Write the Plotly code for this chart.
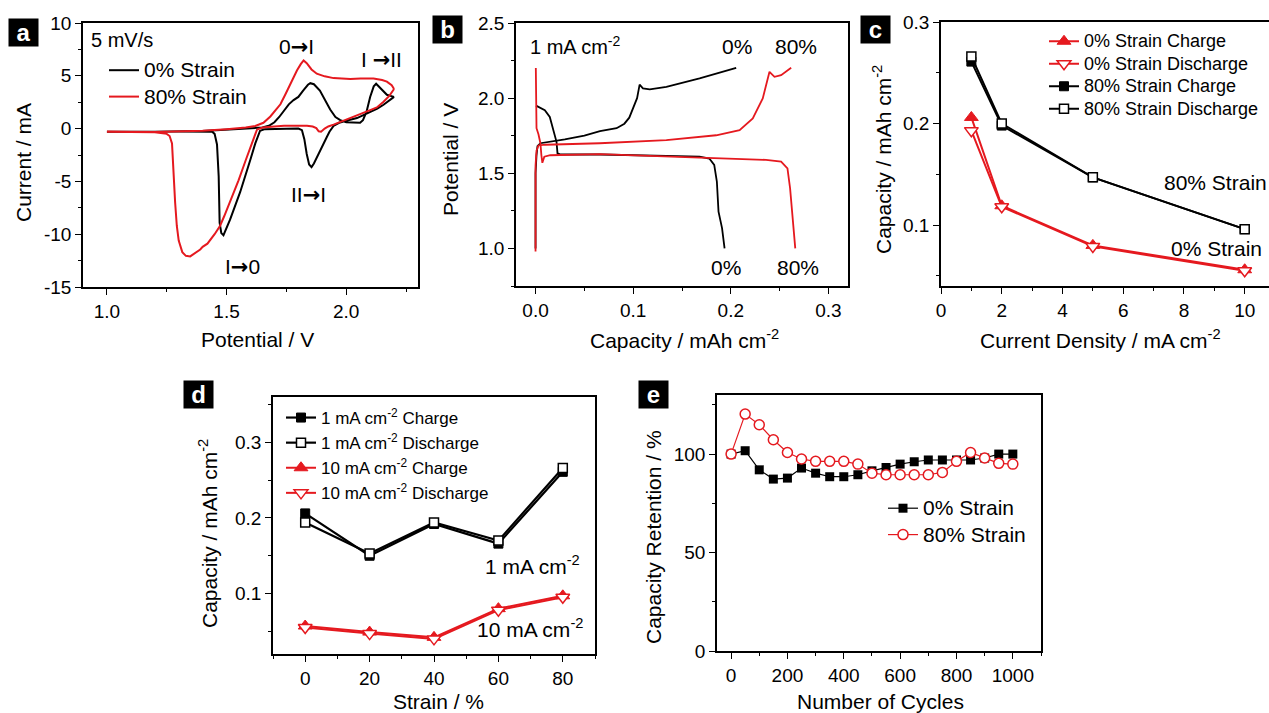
import plotly.graph_objects as go

FONT = "Liberation Sans, Arial, sans-serif"
RED = "#e5191f"
BLACK = "#000000"
W, H = 1269, 713

# ---------------- Panel a : cyclic voltammetry ----------------
cv0_potential = [2.20, 2.18, 2.156, 2.13, 2.10, 2.07, 2.045, 2.0, 1.97, 1.947, 1.93, 1.919, 1.90, 1.877,
                 1.865, 1.855, 1.845, 1.835, 1.825, 1.815, 1.80, 1.75, 1.70, 1.66, 1.64, 1.62, 1.60, 1.557,
                 1.515, 1.495, 1.487, 1.478, 1.471, 1.467, 1.46, 1.45, 1.44, 1.3, 1.15, 1.0,
                 1.2, 1.4, 1.5, 1.6, 1.65, 1.68, 1.70, 1.72, 1.74, 1.76, 1.78, 1.80, 1.82, 1.84, 1.85,
                 1.865, 1.89, 1.91, 1.933, 1.955, 1.975, 2.0, 2.03, 2.058, 2.07, 2.085, 2.10, 2.115, 2.125,
                 2.14, 2.155, 2.17, 2.185, 2.20]
cv0_current = [3.00, 2.65, 2.26, 1.9, 1.6, 1.25, 1.0, 0.75, 0.55, 0.25, -0.3, -0.8, -1.7, -2.7,
               -3.3, -3.65, -3.4, -2.4, -1.0, -0.15, 0.0, -0.02, -0.03, -0.05, -0.2, -1.4, -2.9, -6.0,
               -8.6, -9.7, -10.1, -9.9, -8.9, -4.5, -1.5, -0.5, -0.3, -0.28, -0.28, -0.3,
               -0.3, -0.22, -0.1, 0.0, 0.1, 0.3, 0.6, 1.1, 1.7, 2.3, 2.7, 3.0, 3.6, 4.15, 4.3,
               4.2, 3.6, 2.7, 1.8, 1.1, 0.8, 0.6, 0.55, 0.55, 0.8, 1.6, 3.0, 4.0, 4.25,
               3.9, 3.5, 3.2, 3.1, 3.0]
cv80_potential = [2.20, 2.18, 2.156, 2.128, 2.10, 2.072, 2.04, 2.003, 1.97, 1.947, 1.925, 1.91, 1.895,
                  1.885, 1.875, 1.86, 1.836, 1.80, 1.74, 1.70, 1.65, 1.627, 1.61, 1.58, 1.55, 1.52, 1.49,
                  1.473, 1.45, 1.42, 1.40, 1.39, 1.37, 1.348, 1.33, 1.315, 1.30, 1.292, 1.285, 1.278,
                  1.272, 1.262, 1.25, 1.20, 1.10, 1.0,
                  1.2, 1.4, 1.5, 1.58, 1.62, 1.654, 1.683, 1.705, 1.725, 1.745, 1.767, 1.794, 1.81, 1.822,
                  1.835, 1.855, 1.877, 1.91, 1.947, 2.017, 2.06, 2.114, 2.15, 2.17, 2.19, 2.20]
cv80_current = [3.75, 3.1, 2.55, 2.0, 1.75, 1.5, 1.15, 0.85, 0.55, 0.38, 0.2, 0.0, -0.3,
                -0.25, 0.05, 0.2, 0.28, 0.3, 0.28, 0.2, 0.1, -0.1, -1.1, -3.0, -4.9, -6.7, -8.3,
                -9.2, -10.0, -10.9, -11.2, -11.45, -11.8, -12.1, -12.05, -11.7, -10.6, -9.2, -7.0, -4.5,
                -1.4, -0.7, -0.5, -0.35, -0.3, -0.3,
                -0.32, -0.2, -0.05, 0.1, 0.25, 0.55, 1.15, 1.7, 2.3, 3.2, 4.3, 5.5, 6.1, 6.45,
                6.2, 5.6, 5.2, 4.95, 4.78, 4.7, 4.75, 4.75, 4.6, 4.45, 4.1, 3.75]

# ---------------- Panel b : charge / discharge at 1 mA cm-2 ----------------
b0_charge_cap = [0.0, 0.0, 0.001, 0.002, 0.005, 0.015, 0.03, 0.05, 0.066, 0.083, 0.091, 0.096, 0.0998,
                 0.104, 0.1066, 0.11, 0.117, 0.134, 0.168, 0.2055]
b0_charge_v = [1.0, 1.5, 1.62, 1.68, 1.70, 1.71, 1.725, 1.75, 1.78, 1.80, 1.83, 1.87, 1.93,
               2.0, 2.09, 2.065, 2.058, 2.075, 2.131, 2.202]
b0_discharge_cap = [0.0005, 0.005, 0.0095, 0.0146, 0.018, 0.0215, 0.0225, 0.026, 0.066, 0.134, 0.168,
                    0.178, 0.183, 0.1857, 0.1874, 0.191, 0.1936]
b0_discharge_v = [1.95, 1.935, 1.92, 1.875, 1.798, 1.709, 1.632, 1.625, 1.625, 1.615, 1.611,
                  1.598, 1.556, 1.445, 1.245, 1.135, 1.0]
b80_charge_cap = [0.0, 0.0, 0.001, 0.003, 0.01, 0.0657, 0.134, 0.185, 0.209, 0.2225, 0.2327, 0.238,
                  0.2396, 0.2447, 0.2515, 0.2618]
b80_charge_v = [0.98, 1.55, 1.65, 1.685, 1.69, 1.70, 1.72, 1.753, 1.787, 1.865, 1.998, 2.131,
                2.175, 2.142, 2.153, 2.202]
b80_discharge_cap = [0.0003, 0.0003, 0.001, 0.003, 0.005, 0.006, 0.007, 0.009, 0.015, 0.0657, 0.134,
                     0.202, 0.236, 0.2515, 0.258, 0.2607, 0.2634, 0.266]
b80_discharge_v = [2.2, 1.88, 1.80, 1.76, 1.70, 1.62, 1.57, 1.61, 1.62, 1.627, 1.611,
                   1.60, 1.589, 1.578, 1.533, 1.4, 1.179, 1.0]

# ---------------- Panel c : rate capability ----------------
c_current_density = [1, 2, 5, 10]
c_0_charge = [0.206, 0.119, 0.080, 0.056]
c_0_discharge = [0.193, 0.118, 0.079, 0.055]
c_80_charge = [0.261, 0.198, 0.147, 0.096]
c_80_discharge = [0.266, 0.200, 0.147, 0.096]

# ---------------- Panel d : capacity vs strain ----------------
d_strain = [0, 20, 40, 60, 80]
d_1_charge = [0.206, 0.150, 0.192, 0.166, 0.261]
d_1_discharge = [0.194, 0.153, 0.194, 0.170, 0.266]
d_10_charge = [0.057, 0.049, 0.042, 0.080, 0.097]
d_10_discharge = [0.055, 0.047, 0.040, 0.078, 0.095]

# ---------------- Panel e : cycling ----------------
e_cycles = [0, 50, 100, 150, 200, 250, 300, 350, 400, 450, 500, 550, 600, 650, 700, 750, 800,
            850, 900, 950, 1000]
e_0_strain = [100, 101.7, 92.0, 87.3, 87.8, 92.9, 90.3, 88.5, 88.5, 89.5, 91.5, 93.2, 94.9, 96.1,
              97.0, 97.0, 97.0, 97.0, 98.0, 100.0, 100.0]
e_80_strain = [100, 120.3, 114.9, 107.3, 100.8, 97.5, 96.3, 96.3, 96.3, 94.9, 90.3, 89.5, 89.5, 89.5,
               89.5, 90.7, 96.3, 100.8, 98.0, 95.3, 94.9]


def px_x(p):
    return p / W


def px_y(p):
    return 1 - p / H


def big(s, size):
    return '<span style="font-size:%dpx">%s</span>' % (size, s)


ARROW = '<span style="font-family:DejaVu Sans;font-weight:bold">\u2192</span>'

fig = go.Figure()

# Panel a
fig.add_trace(go.Scatter(x=cv0_potential, y=cv0_current, mode="lines", name=big("0% Strain", 21),
                         line=dict(color=BLACK, width=2), xaxis="x", yaxis="y", legend="legend"))
fig.add_trace(go.Scatter(x=cv80_potential, y=cv80_current, mode="lines", name=big("80% Strain", 21),
                         line=dict(color=RED, width=2), xaxis="x", yaxis="y", legend="legend"))

# Panel b
for xs, ys, col in [(b0_charge_cap, b0_charge_v, BLACK), (b0_discharge_cap, b0_discharge_v, BLACK),
                    (b80_charge_cap, b80_charge_v, RED), (b80_discharge_cap, b80_discharge_v, RED)]:
    fig.add_trace(go.Scatter(x=xs, y=ys, mode="lines", line=dict(color=col, width=1.8),
                             xaxis="x2", yaxis="y2", showlegend=False))

# Panel c
fig.add_trace(go.Scatter(x=c_current_density, y=c_0_charge, mode="lines+markers",
                         name=big("0% Strain Charge", 18), line=dict(color=RED, width=2),
                         marker=dict(symbol="triangle-up", size=12, color=RED, line=dict(color=RED, width=1)),
                         xaxis="x3", yaxis="y3", legend="legend2", legendgroup="c1"))
fig.add_trace(go.Scatter(x=c_current_density, y=c_0_discharge, mode="lines+markers",
                         name=big("0% Strain Discharge", 18), line=dict(color=RED, width=2),
                         marker=dict(symbol="triangle-down", size=12, color="white", line=dict(color=RED, width=1.5)),
                         xaxis="x3", yaxis="y3", legend="legend2", legendgroup="c2"))
fig.add_trace(go.Scatter(x=c_current_density, y=c_80_charge, mode="lines+markers",
                         name=big("80% Strain Charge", 18), line=dict(color=BLACK, width=2),
                         marker=dict(symbol="square", size=9, color=BLACK, line=dict(color=BLACK, width=1)),
                         xaxis="x3", yaxis="y3", legend="legend2", legendgroup="c3"))
fig.add_trace(go.Scatter(x=c_current_density, y=c_80_discharge, mode="lines+markers",
                         name=big("80% Strain Discharge", 18), line=dict(color=BLACK, width=2),
                         marker=dict(symbol="square", size=9, color="white", line=dict(color=BLACK, width=1.5)),
                         xaxis="x3", yaxis="y3", legend="legend2", legendgroup="c4"))

# Panel d
fig.add_trace(go.Scatter(x=d_strain, y=d_1_charge, mode="lines+markers", name="1 mA cm<sup>-2</sup> Charge",
                         line=dict(color=BLACK, width=2.2),
                         marker=dict(symbol="square", size=9, color=BLACK, line=dict(color=BLACK, width=1)),
                         xaxis="x4", yaxis="y4", legend="legend3", legendgroup="d1"))
fig.add_trace(go.Scatter(x=d_strain, y=d_1_discharge, mode="lines+markers",
                         name="1 mA cm<sup>-2</sup> Discharge", line=dict(color=BLACK, width=2.2),
                         marker=dict(symbol="square", size=9, color="white", line=dict(color=BLACK, width=1.5)),
                         xaxis="x4", yaxis="y4", legend="legend3", legendgroup="d2"))
fig.add_trace(go.Scatter(x=d_strain, y=d_10_charge, mode="lines+markers",
                         name="10 mA cm<sup>-2</sup> Charge", line=dict(color=RED, width=2),
                         marker=dict(symbol="triangle-up", size=12, color=RED, line=dict(color=RED, width=1)),
                         xaxis="x4", yaxis="y4", legend="legend3", legendgroup="d3"))
fig.add_trace(go.Scatter(x=d_strain, y=d_10_discharge, mode="lines+markers",
                         name="10 mA cm<sup>-2</sup> Discharge", line=dict(color=RED, width=2),
                         marker=dict(symbol="triangle-down", size=12, color="white", line=dict(color=RED, width=1.5)),
                         xaxis="x4", yaxis="y4", legend="legend3", legendgroup="d4"))

# Panel e
fig.add_trace(go.Scatter(x=e_cycles, y=e_0_strain, mode="lines+markers", name=big("0% Strain", 21),
                         line=dict(color=BLACK, width=1.2),
                         marker=dict(symbol="square", size=9, color=BLACK),
                         xaxis="x5", yaxis="y5", legend="legend4", legendgroup="e1"))
fig.add_trace(go.Scatter(x=e_cycles, y=e_80_strain, mode="lines+markers", name=big("80% Strain", 21),
                         line=dict(color=RED, width=1.2),
                         marker=dict(symbol="circle", size=10, color="white", line=dict(color=RED, width=1.5)),
                         xaxis="x5", yaxis="y5", legend="legend4", legendgroup="e2"))


def axis(domain, rng, dtick, minor_dtick, anchor, mirror=True, tickformat=None, **kw):
    d = dict(domain=domain, range=rng, dtick=dtick, tick0=0, ticks="outside", ticklen=6, tickwidth=1.4,
             tickcolor="black", showline=True, linecolor="black", linewidth=1.6, mirror=mirror,
             showgrid=False, zeroline=False, anchor=anchor, automargin=False,
             tickfont=dict(size=19, color="black", family=FONT),
             minor=dict(dtick=minor_dtick, tick0=0, ticks="outside", ticklen=3.5, tickwidth=1.2,
                        tickcolor="black", showgrid=False))
    if tickformat:
        d["tickformat"] = tickformat
    d.update(kw)
    return d


layout = dict(
    template="none",
    width=W, height=H, margin=dict(l=0, r=0, t=0, b=0, pad=0, autoexpand=False),
    paper_bgcolor="white", plot_bgcolor="white",
    font=dict(family=FONT, color="black"),
    xaxis=axis([px_x(83), px_x(418)], [0.9, 2.3], 0.5, 0.25, "y", tickformat=".1f"),
    yaxis=axis([px_y(287), px_y(23)], [-15, 10], 5, 2.5, "x",
               tickmode="array", tickvals=[-15, -10, -5, 0, 5, 10],
               ticktext=["-15", "-10", "-5", "0", "5", "10"]),
    xaxis2=axis([px_x(516), px_x(848)], [-0.02, 0.32], 0.1, 0.05, "y2", tickformat=".1f"),
    yaxis2=axis([px_y(286), px_y(23)], [0.75, 2.5], 0.5, 0.25, "x2", tickformat=".1f"),
    xaxis3=axis([px_x(941), 1.0], [0, 10.8], 2, 1, "y3"),
    yaxis3=axis([px_y(286), px_y(22)], [0.04, 0.3], 0.1, 0.05, "x3", mirror=False, tickformat=".1f"),
    xaxis4=axis([px_x(273), px_x(595)], [-10, 90], 20, 10, "y4"),
    yaxis4=axis([px_y(654), px_y(397)], [0.02, 0.36], 0.1, 0.05, "x4", tickformat=".1f"),
    xaxis5=axis([px_x(717), px_x(1041)], [-50, 1100], 200, 100, "y5"),
    yaxis5=axis([px_y(651), px_y(395)], [0, 130], 50, 25, "x5"),
    legend=dict(x=px_x(104), y=px_y(52), xanchor="left", yanchor="top", bgcolor="rgba(0,0,0,0)",
                font=dict(size=18, family=FONT, color="black"), tracegroupgap=0),
    legend2=dict(x=px_x(1044), y=px_y(25), xanchor="left", yanchor="top", bgcolor="rgba(0,0,0,0)",
                 font=dict(size=15, family=FONT, color="black"), tracegroupgap=0),
    legend3=dict(x=px_x(281), y=px_y(400), xanchor="left", yanchor="top", bgcolor="rgba(0,0,0,0)",
                 font=dict(size=17, family=FONT, color="black"), tracegroupgap=0),
    legend4=dict(x=px_x(883), y=px_y(490), xanchor="left", yanchor="top", bgcolor="rgba(0,0,0,0)",
                 font=dict(size=18, family=FONT, color="black"), tracegroupgap=0),
)
fig.update_layout(**layout)

ann = []


def text(s, x, y, size=21, xanchor="center", angle=0):
    ann.append(dict(text=s, x=px_x(x), y=px_y(y), xref="paper", yref="paper", showarrow=False,
                    xanchor=xanchor, yanchor="middle", textangle=angle,
                    font=dict(size=size, family=FONT, color="black")))


# axis titles
text("Potential / V", 257, 339)
text("Current / mA", 24, 163, angle=-90)
text("Capacity / mAh cm<sup>-2</sup>", 684, 339)
text("Potential / V", 450, 160, angle=-90)
text("Current Density / mA cm<sup>-2</sup>", 1100, 339)
text("Capacity / mAh cm<sup>-2</sup>", 882, 160, angle=-90)
text("Strain / %", 438, 701)
text("Capacity / mAh cm<sup>-2</sup>", 208, 533, angle=-90)
text("Number of Cycles", 880, 701)
text("Capacity Retention / %", 653, 537, angle=-90)

# panel a annotations
text("5 mV/s", 89, 40, size=20, xanchor="left")
text("0" + ARROW + "I", 296, 47)
text("I " + ARROW + "II", 381, 60)
text("II" + ARROW + "I", 308, 195)
text("I" + ARROW + "0", 242, 267)

# panel b annotations
text("1 mA cm<sup>-2</sup>", 528, 46, size=20, xanchor="left")
text("0%", 737, 47)
text("80%", 796, 47)
text("0%", 726, 267)
text("80%", 798, 267)

# panel c annotations
text("80% Strain", 1215, 183)
text("0% Strain", 1216, 248)

# panel d annotations
text("1 mA cm<sup>-2</sup>", 532, 565)
text("10 mA cm<sup>-2</sup>", 530, 628)

# panel letters
for letter, x, y in [("a", 8, 18), ("b", 432, 15), ("c", 860, 15), ("d", 183, 380), ("e", 638, 380)]:
    ann.append(dict(text="<b>" + letter + "</b>", x=px_x(x), y=px_y(y), xref="paper", yref="paper",
                    showarrow=False, xanchor="left", yanchor="top", bgcolor="black", width=29, height=27,
                    borderpad=0, font=dict(size=24, family=FONT, color="white")))

fig.update_layout(annotations=ann)
fig.write_html("out.html", config={"displayModeBar": False},
               post_script="document.body.style.margin='0px';document.body.style.overflow='hidden';")
